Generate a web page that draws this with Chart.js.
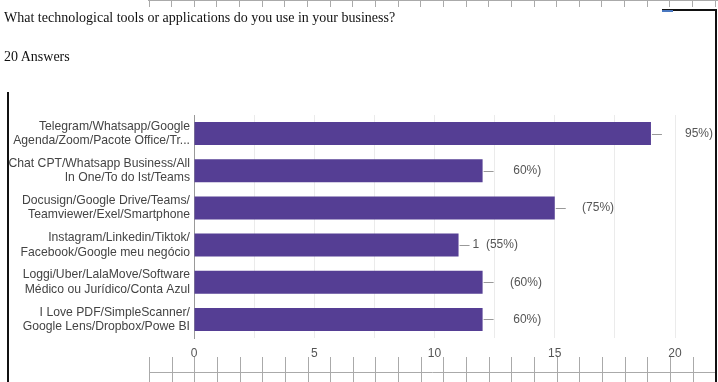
<!DOCTYPE html>
<html><head><meta charset="utf-8">
<script src="https://cdn.jsdelivr.net/npm/chart.js@4"></script>
<style>
html,body{margin:0;padding:0;background:#fff;}
#wrap{position:relative;width:718px;height:382px;overflow:hidden;background:#fff;}
canvas{position:absolute;left:0;top:0;}
.t{position:absolute;left:4px;font-family:"Liberation Serif","Times New Roman",serif;font-size:14px;color:#111;white-space:nowrap;line-height:16px;}
</style></head><body>
<div id="wrap"><canvas id="c" width="718" height="382"></canvas>
<div class="t" style="top:10px">What technological tools or applications do you use in your business?</div>
<div class="t" style="top:49px">20 Answers</div></div>
<script>
const categories = [
  ['Telegram/Whatsapp/Google', 'Agenda/Zoom/Pacote Office/Tr...'],
  ['Chat CPT/Whatsapp Business/All', 'In One/To do Ist/Teams'],
  ['Docusign/Google Drive/Teams/', 'Teamviewer/Exel/Smartphone'],
  ['Instagram/Linkedin/Tiktok/', 'Facebook/Google meu negócio'],
  ['Loggi/Uber/LalaMove/Software', 'Médico ou Jurídico/Conta Azul'],
  ['I Love PDF/SimpleScanner/', 'Google Lens/Dropbox/Powe BI']
];
const answers = [19, 12, 15, 11, 12, 12];
const valueLabels = ['      95%)', '     60%)', '    (75%)', '1  (55%)', '    (60%)', '     60%)'];
const axisTickLabels = [0, 5, 10, 15, 20];

const FONT = '"Liberation Sans", Arial, sans-serif';

const valueLabelPlugin = {
  id: 'valueLabels',
  afterDatasetsDraw(chart) {
    const ctx = chart.ctx;
    const meta = chart.getDatasetMeta(0);
    ctx.save();
    meta.data.forEach((bar, i) => {
      const x = bar.x, y = Math.round(bar.y) + 0.5;
      ctx.strokeStyle = '#999';
      ctx.lineWidth = 1;
      ctx.beginPath();
      ctx.moveTo(x + 1, y);
      ctx.lineTo(x + 11, y);
      ctx.stroke();
      ctx.fillStyle = '#555';
      ctx.font = '12px ' + FONT;
      ctx.textAlign = 'left';
      ctx.textBaseline = 'middle';
      ctx.fillText(valueLabels[i], x + 14, bar.y);
    });
    ctx.restore();
  }
};

const decorPlugin = {
  id: 'decor',
  afterDraw(chart) {
    const ctx = chart.ctx;
    ctx.save();
    ctx.strokeStyle = '#aaa';
    ctx.lineWidth = 1;
    ctx.beginPath();
    ctx.moveTo(148, 0.5); ctx.lineTo(718, 0.5);
    for (let x = 148.5; x < 718; x += 22.65) {
      const px = Math.round(x) + 0.5;
      ctx.moveTo(px, 0); ctx.lineTo(px, 7);
    }
    ctx.stroke();
    ctx.beginPath();
    ctx.moveTo(149, 372.5); ctx.lineTo(716, 372.5);
    for (let x = 149; x < 712; x += 22.65) {
      const px = Math.round(x) + 0.5;
      ctx.moveTo(px, 357); ctx.lineTo(px, 382);
    }
    ctx.stroke();
    ctx.strokeStyle = '#111';
    ctx.lineWidth = 2;
    ctx.beginPath();
    ctx.moveTo(8, 92); ctx.lineTo(8, 382);
    ctx.moveTo(662, 10); ctx.lineTo(716, 10); ctx.lineTo(716, 382);
    ctx.stroke();
    ctx.fillStyle = '#4a78c0';
    ctx.fillRect(662, 10, 11, 2);
    ctx.restore();
  }
};

new Chart(document.getElementById('c'), {
  type: 'bar',
  data: {
    labels: categories,
    datasets: [{
      data: answers,
      backgroundColor: '#553e94',
      borderWidth: 0,
      barPercentage: 0.62,
      categoryPercentage: 1
    }]
  },
  options: {
    indexAxis: 'y',
    responsive: false,
    animation: false,
    layout: { padding: { top: 115, right: 43, left: 0, bottom: 0 } },
    plugins: { legend: { display: false }, tooltip: { enabled: false } },
    scales: {
      x: {
        min: 0, max: 20,
        ticks: {
          stepSize: 2.5, autoSkip: false, maxRotation: 0, padding: 8,
          color: '#555', font: { family: FONT, size: 12 },
          callback: (v) => axisTickLabels.includes(v) ? String(v) : ''
        },
        grid: { color: '#ebebeb', drawTicks: false },
        border: { display: false },
        afterFit: (s) => { s.height = 44; }
      },
      y: {
        ticks: { color: '#444', font: { family: FONT, size: 12.2, lineHeight: 1.18 }, padding: 4, autoSkip: false },
        grid: { display: false, drawTicks: false },
        border: { display: true, color: '#999' },
        afterFit: (s) => { s.width = 194; }
      }
    }
  },
  plugins: [valueLabelPlugin, decorPlugin]
});
</script>
</body></html>
